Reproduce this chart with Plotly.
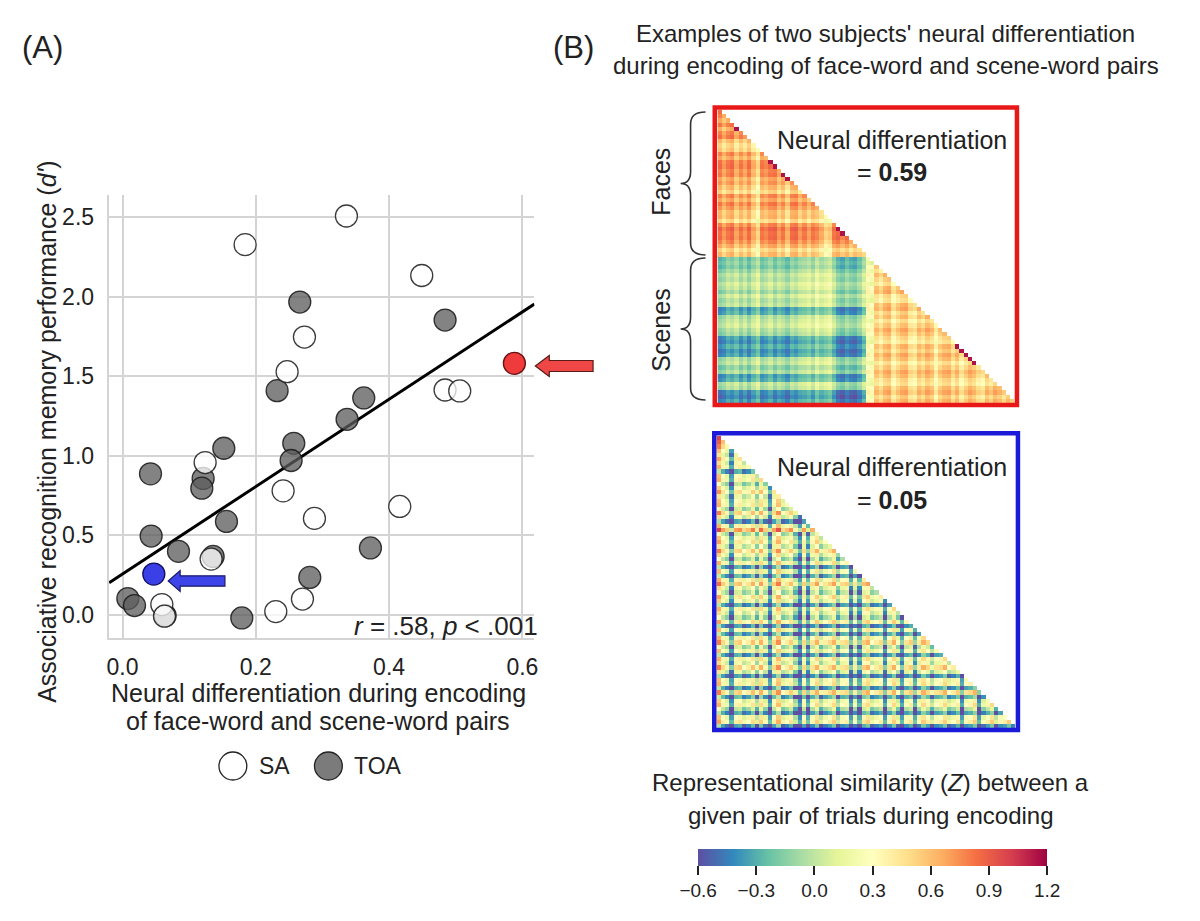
import numpy as np
import plotly.graph_objects as go

W, H = 1200, 921
OX, OY = 8, 8  # page body margin of the viewer
FONT = "Liberation Sans, Arial, sans-serif"
TXT = "#222222"

# ---------------- data: panel A ----------------
sa_x = [0.336, 0.184, 0.449, 0.273, 0.247, 0.484, 0.506, 0.124, 0.241, 0.416,
        0.288, 0.133, 0.270, 0.230, 0.059, 0.063]
sa_y = [2.508, 2.328, 2.134, 1.747, 1.529, 1.414, 1.408, 0.958, 0.780, 0.682,
        0.607, 0.351, 0.100, 0.021, 0.065, -0.008]
toa_x = [0.266, 0.484, 0.232, 0.362, 0.337, 0.257, 0.253, 0.152, 0.042, 0.121,
         0.119, 0.156, 0.043, 0.084, 0.136, 0.372, 0.281, 0.008, 0.018, 0.179, 0.064]
toa_y = [1.967, 1.854, 1.410, 1.364, 1.230, 1.079, 0.971, 1.048, 0.887, 0.858,
         0.797, 0.588, 0.496, 0.400, 0.368, 0.421, 0.236, 0.103, 0.059, -0.019, -0.004]
red_x, red_y = [0.588], [1.582]
blue_x, blue_y = [0.047], [0.257]
fit_x = [-0.02, 0.618]
fit_y = [0.203, 1.954]
x_ticks = [0.0, 0.2, 0.4, 0.6]
x_ticklabels = ["0.0", "0.2", "0.4", "0.6"]
y_ticks = [0.0, 0.5, 1.0, 1.5, 2.0, 2.5]
y_ticklabels = ["0.0", "0.5", "1.0", "1.5", "2.0", "2.5"]
legend_labels = ["SA", "TOA"]

# ---------------- data: panel B (similarity matrices) ----------------
N_TRIALS = 70
N_FACES = 35
# subject 1 (differentiation = 0.59): block levels + row / column offsets
s1_face_face, s1_scene_face, s1_scene_scene = 0.66, -0.1, 0.47
s1_ff_row = [0.1, 0.05, -0.05, 0.08, -0.08, 0.05, 0.1, -0.1, -0.2, -0.15, 0.05, -0.05, 0.1, 0.12, 0.05,
             0.08, -0.05, 0.0, -0.1, -0.2, 0.05, -0.05, 0.08, 0.0, -0.1, -0.08, -0.22, 0.05, 0.15, 0.1,
             0.12, 0.05, -0.05, -0.2, -0.1]
s1_ff_col = [0.08, -0.05, 0.05, 0.1, -0.08, 0.05, -0.05, 0.08, -0.1, -0.25, 0.05, 0.0, 0.08, 0.1, -0.05,
             0.05, -0.12, 0.08, 0.1, -0.05, 0.05, -0.08, 0.05, 0.0, -0.1, -0.25, -0.2, 0.05, 0.1, 0.0,
             0.08, -0.05, 0.05, 0.0, -0.05]
s1_sf_row = [-0.1, -0.05, -0.1, 0.0, 0.1, 0.05, 0.15, 0.1, 0.0, 0.15, 0.05, 0.1, -0.25, -0.2, 0.05,
             0.1, 0.15, 0.05, 0.0, -0.25, -0.3, -0.2, -0.3, -0.25, 0.05, 0.1, -0.05, 0.05, -0.25, -0.2,
             0.1, 0.05, -0.3, -0.35, -0.25]
s1_sf_col = [-0.1, -0.05, 0.05, 0.0, 0.08, -0.05, 0.05, -0.08, 0.05, 0.15, -0.05, 0.0, 0.08, -0.05, 0.05,
             0.0, -0.08, 0.05, 0.0, 0.08, 0.1, 0.15, 0.05, 0.2, 0.1, 0.15, 0.2, 0.05, -0.1, -0.15,
             -0.05, -0.12, -0.15, -0.05, 0.1]
s1_ss_row = [-0.05, -0.12, 0.05, -0.05, 0.1, 0.0, -0.08, 0.08, 0.12, -0.05, -0.1, 0.08, 0.12, -0.02, 0.06,
             -0.08, 0.02, 0.12, 0.05, -0.04, -0.1, 0.08, 0.0, 0.12, 0.05, -0.08, 0.02, 0.12, 0.06, -0.04,
             -0.08, 0.06, 0.12, 0.0, 0.08]
s1_ss_col = [-0.2, -0.25, 0.05, -0.05, 0.08, 0.12, -0.1, 0.02, 0.1, 0.12, -0.05, -0.1, 0.08, 0.0, 0.12,
             0.05, -0.15, 0.02, 0.1, 0.12, -0.04, 0.08, -0.1, 0.02, 0.12, 0.06, -0.05, -0.1, 0.08, 0.0,
             0.12, 0.06, -0.04, 0.08, 0.0]
s1_hot_diag = [4, 12, 13, 15, 16, 28, 29, 56, 57, 58, 59, 60]
s1_hot_value = 1.15
# subject 2 (differentiation = 0.05)
s2_level = 0.15
s2_row = [0.45, 0.35, 0.25, 0.05, -0.1, 0.15, -0.05, 0.1, -0.55, 0.05,
          0.1, -0.25, 0.0, 0.2, -0.1, 0.05, 0.1, -0.2, 0.25, -0.05,
          -0.6, 0.1, 0.45, -0.2, 0.05, 0.15, -0.1, 0.25, 0.0, -0.25,
          0.1, -0.55, 0.05, -0.5, 0.1, 0.3, -0.05, -0.2, 0.15, 0.0,
          -0.55, 0.1, -0.05, -0.25, 0.15, -0.6, 0.05, -0.5, 0.1, 0.25,
          -0.2, 0.05, -0.55, 0.1, -0.05, 0.25, -0.1, -0.6, 0.05, 0.1,
          -0.55, 0.25, -0.5, 0.0, 0.1, -0.25, -0.55, 0.05, 0.15, -0.6]
s2_col = [0.4, 0.1, -0.05, -0.55, 0.1, 0.15, -0.1, 0.0, 0.2, -0.2,
          0.25, -0.05, -0.55, 0.1, 0.35, -0.1, 0.0, 0.15, -0.25, -0.6,
          0.1, -0.5, 0.05, 0.25, -0.2, 0.0, 0.1, 0.25, -0.25, 0.05,
          0.1, -0.55, 0.0, -0.5, 0.15, 0.25, -0.1, 0.0, 0.1, -0.55,
          0.05, 0.25, -0.1, -0.55, 0.05, 0.15, -0.5, 0.0, 0.25, 0.1,
          -0.2, 0.05, 0.1, 0.25, -0.1, 0.0, 0.15, -0.55, 0.05, 0.1,
          0.25, -0.55, -0.05, 0.1, 0.25, -0.2, 0.05, 0.1, 0.25, 0.0]
cbar_ticks = [-0.6, -0.3, 0.0, 0.3, 0.6, 0.9, 1.2]
cbar_ticklabels = ["\u22120.6", "\u22120.3", "0.0", "0.3", "0.6", "0.9", "1.2"]
ZMIN, ZMAX = -0.6, 1.2


def build_s1():
    z = [[None] * N_TRIALS for _ in range(N_TRIALS)]
    for i in range(N_TRIALS):
        for j in range(i + 1):
            if i < N_FACES:
                v = s1_face_face + s1_ff_row[i] + s1_ff_col[j]
            elif j < N_FACES:
                v = s1_scene_face + s1_sf_row[i - N_FACES] + s1_sf_col[j]
            else:
                v = s1_scene_scene + s1_ss_row[i - N_FACES] + s1_ss_col[j - N_FACES]
            if i == j and i in s1_hot_diag:
                v = s1_hot_value
            z[i][j] = float(np.clip(v, ZMIN, ZMAX))
    return z


def build_s2():
    z = [[None] * N_TRIALS for _ in range(N_TRIALS)]
    for i in range(N_TRIALS):
        for j in range(i + 1):
            z[i][j] = float(np.clip(s2_level + s2_row[i] + s2_col[j], ZMIN, ZMAX))
    return z


def px(x):
    return (x - OX) / W


def py(y):
    return 1 - (y - OY) / H


def P(x, y):
    return f"{px(x):.5f},{py(y):.5f}"


fig = go.Figure()

# ---------------- panel A traces ----------------
edge = "rgba(25,25,25,0.85)"
fig.add_trace(go.Scatter(x=fit_x, y=fit_y, mode="lines", line=dict(color="black", width=3),
                         showlegend=False, hoverinfo="skip"))
fig.add_trace(go.Scatter(x=toa_x, y=toa_y, mode="markers", name="TOA",
                         marker=dict(size=22, color="rgba(92,92,92,0.76)", line=dict(color=edge, width=1.3)),
                         showlegend=False))
fig.add_trace(go.Scatter(x=sa_x, y=sa_y, mode="markers", name="SA",
                         marker=dict(size=22, color="rgba(255,255,255,0.75)", line=dict(color=edge, width=1.3)),
                         showlegend=False))
fig.add_trace(go.Scatter(x=red_x, y=red_y, mode="markers", showlegend=False,
                         marker=dict(size=22, color="#ef3b3b", line=dict(color="#6a1010", width=1.3))))
fig.add_trace(go.Scatter(x=blue_x, y=blue_y, mode="markers", showlegend=False,
                         marker=dict(size=22, color="#3a3fe6", line=dict(color="#101060", width=1.3))))

# ---------------- panel B heatmaps ----------------
cs = "Spectral_r"
fig.add_trace(go.Heatmap(z=build_s1(), x=list(range(N_TRIALS)), y=list(range(N_TRIALS)),
                         colorscale=cs, zmin=ZMIN, zmax=ZMAX, xaxis="x2", yaxis="y2",
                         hoverongaps=False,
                         colorbar=dict(orientation="h", x=px(875), xanchor="center", y=py(849), yanchor="top",
                                       len=349, lenmode="pixels", thickness=17, thicknessmode="pixels",
                                       outlinewidth=0, ticks="outside", ticklen=9, tickwidth=2, tickcolor="#222",
                                       tickvals=cbar_ticks, ticktext=cbar_ticklabels,
                                       tickfont=dict(size=19, family=FONT, color=TXT), xpad=0, ypad=0)))
fig.add_trace(go.Heatmap(z=build_s2(), x=list(range(N_TRIALS)), y=list(range(N_TRIALS)),
                         colorscale=cs, zmin=ZMIN, zmax=ZMAX, xaxis="x3", yaxis="y3",
                         hoverongaps=False, showscale=False))

grid = "#d4d4d4"
hidden = dict(visible=False, showgrid=False, zeroline=False)
fig.update_layout(
    width=W, height=H, margin=dict(l=0, r=0, t=0, b=0),
    paper_bgcolor="white", plot_bgcolor="white", showlegend=False,
    font=dict(family=FONT, color=TXT),
    xaxis=dict(domain=[px(107), px(535)], range=[-0.021, 0.618], tickvals=x_ticks, ticktext=x_ticklabels,
               showgrid=True, gridcolor=grid, gridwidth=1.6, zeroline=False,
               showline=True, linecolor=grid, linewidth=1.6, ticks="outside", ticklen=8,
               tickcolor="rgba(0,0,0,0)", tickfont=dict(size=23, family=FONT, color=TXT)),
    yaxis=dict(domain=[py(638), py(195)], range=[-0.145, 2.64], tickvals=y_ticks, ticktext=y_ticklabels,
               showgrid=True, gridcolor=grid, gridwidth=1.6, zeroline=False,
               showline=True, linecolor=grid, linewidth=1.6, ticks="outside", ticklen=8,
               tickcolor="rgba(0,0,0,0)", tickfont=dict(size=23, family=FONT, color=TXT)),
    xaxis2=dict(domain=[px(719), px(1017)], range=[-0.5, N_TRIALS - 0.5], anchor="y2", **hidden),
    yaxis2=dict(domain=[py(403), py(110)], range=[N_TRIALS - 0.5, -0.5], anchor="x2", **hidden),
    xaxis3=dict(domain=[px(718), px(1018)], range=[-0.5, N_TRIALS - 0.5], anchor="y3", **hidden),
    yaxis3=dict(domain=[py(728), py(436)], range=[N_TRIALS - 0.5, -0.5], anchor="x3", **hidden),
)

shapes = []
# boxes around matrices
shapes.append(dict(type="rect", xref="paper", yref="paper", x0=px(716.3), x1=px(1020), y0=py(405), y1=py(107.5),
                   line=dict(color="#e81818", width=4.5)))
shapes.append(dict(type="rect", xref="paper", yref="paper", x0=px(715.8), x1=px(1021), y0=py(730), y1=py(433.3),
                   line=dict(color="#1a1ad8", width=4.5)))


def brace(xb, xm, xt, y0, y1, q=12):
    ym = (y0 + y1) / 2
    return (f"M {P(xb, y0)} Q {P(xm, y0)} {P(xm, y0 + q)} L {P(xm, ym - q)} "
            f"Q {P(xm, ym)} {P(xt, ym)} Q {P(xm, ym)} {P(xm, ym + q)} "
            f"L {P(xm, y1 - q)} Q {P(xm, y1)} {P(xb, y1)}")


for y0, y1 in [(112, 255), (258, 400)]:
    shapes.append(dict(type="path", xref="paper", yref="paper", path=brace(707, 692, 682, y0, y1),
                       line=dict(color="#333", width=1.6)))


def arrow(xt, xh, xe, yc, hh, sh):
    return (f"M {P(xt, yc)} L {P(xh, yc - hh)} L {P(xh, yc - sh)} L {P(xe, yc - sh)} "
            f"L {P(xe, yc + sh)} L {P(xh, yc + sh)} L {P(xh, yc + hh)} Z")


shapes.append(dict(type="path", xref="paper", yref="paper", path=arrow(536, 550, 594, 366, 10.5, 5.5),
                   fillcolor="#ef4646", line=dict(color="#5a1a1a", width=1.2)))
shapes.append(dict(type="path", xref="paper", yref="paper", path=arrow(167, 179, 224, 581, 10.5, 5.2),
                   fillcolor="#3d44e8", line=dict(color="#1a1a6a", width=1.2)))

# legend symbols
for cx, fill in [(232, "white"), (328, "rgb(123,123,123)")]:
    shapes.append(dict(type="circle", xref="paper", yref="paper", x0=px(cx - 14), x1=px(cx + 14),
                       y0=py(766 + 14), y1=py(766 - 14), fillcolor=fill, line=dict(color="#222", width=1.3)))
fig.update_layout(shapes=shapes)


def ann(text, x, y, size, xanchor="center", angle=0):
    fig.add_annotation(text=text, x=px(x), y=py(y), xref="paper", yref="paper", showarrow=False,
                       xanchor=xanchor, yanchor="middle", textangle=angle,
                       font=dict(size=size, family=FONT, color=TXT))


ann("(A)", 41, 47, 31)
ann("(B)", 574, 47, 31)
ann("Examples of two subjects' neural differentiation", 888, 33, 24)
ann("during encoding of face-word and scene-word pairs", 888, 65, 24)
ann("Associative recognition memory performance (<i>d'</i>)", 45, 431, 25, angle=-90)
ann("Neural differentiation during encoding", 318, 693, 25)
ann("of face-word and scene-word pairs", 318, 721, 25)
ann("<i>r</i> = .58, <i>p</i> &lt; .001", 541, 626, 26, xanchor="right")
ann(legend_labels[0], 256, 766, 23, xanchor="left")
ann(legend_labels[1], 352, 766, 23, xanchor="left")
ann("Faces", 662, 182, 25, angle=-90)
ann("Scenes", 662, 330, 25, angle=-90)
ann("Neural differentiation", 894, 140, 25)
ann("= <b>0.59</b>", 894, 172, 25)
ann("Neural differentiation", 894, 467, 25)
ann("= <b>0.05</b>", 894, 500, 25)
ann("Representational similarity (<i>Z</i>) between a", 873, 782, 24)
ann("given pair of trials during encoding", 873, 815, 24)

fig.write_html("out.html")
